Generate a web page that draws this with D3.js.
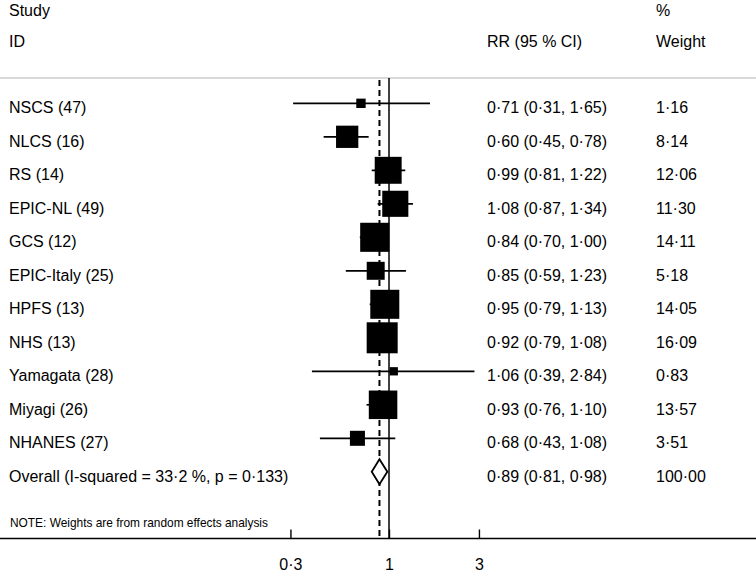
<!DOCTYPE html>
<html>
<head>
<meta charset="utf-8">
<script src="https://cdn.jsdelivr.net/npm/d3@7"></script>
<style>
  body { margin: 0; background: #fff; }
  svg { display: block; }
  text { font-family: "Liberation Sans", Arial, Helvetica, sans-serif; fill: #000; }
</style>
</head>
<body>
<svg></svg>
<script>
// study rows
var studies = ["NSCS (47)", "NLCS (16)", "RS (14)", "EPIC-NL (49)", "GCS (12)", "EPIC-Italy (25)",
  "HPFS (13)", "NHS (13)", "Yamagata (28)", "Miyagi (26)", "NHANES (27)"];
var rr     = [0.71, 0.60, 0.99, 1.08, 0.84, 0.85, 0.95, 0.92, 1.06, 0.93, 0.68];
var lower  = [0.31, 0.45, 0.81, 0.87, 0.70, 0.59, 0.79, 0.79, 0.39, 0.76, 0.43];
var upper  = [1.65, 0.78, 1.22, 1.34, 1.00, 1.23, 1.13, 1.08, 2.84, 1.10, 1.08];
var weight = [1.16, 8.14, 12.06, 11.30, 14.11, 5.18, 14.05, 16.09, 0.83, 13.57, 3.51];

// pooled estimate
var overallLabel = "Overall (I-squared = 33\u00b72 %, p = 0\u00b7133)";
var overall = { rr: 0.89, lower: 0.81, upper: 0.98, weight: 100.00 };

var tickValues = [0.3, 1, 3];
var tickLabels = ["0\u00b73", "1", "3"];
var note = "NOTE: Weights are from random effects analysis";

var width = 756, height = 576;

var svg = d3.select("svg")
  .attr("width", width)
  .attr("height", height);

// ~188.5 px per decade, 1 at x=389
var x = d3.scaleLog()
  .domain([0.1, 10])
  .range([200.5, 577.5]);

var y = d3.scaleLinear()
  .domain([0, 11])
  .range([103.3, 471.8]);

// box area grows with weight
var side = function(w) { return Math.sqrt(20 + 58.5 * w); };

var fmt = function(v) { return d3.format(".2f")(v).replace(".", "\u00b7"); };

var lineTop = 78, axisY = 538.5;

// header
var header = svg.append("g").attr("font-size", 16);
header.append("text").attr("x", 9).attr("y", 15.5).text("Study");
header.append("text").attr("x", 9).attr("y", 46.5).text("ID");
header.append("text").attr("x", 487).attr("y", 46.5).text("RR (95 % CI)");
header.append("text").attr("x", 656).attr("y", 15.5).text("%");
header.append("text").attr("x", 656).attr("y", 46.5).text("Weight");

svg.append("line")
  .attr("x1", 0).attr("x2", width)
  .attr("y1", lineTop).attr("y2", lineTop)
  .attr("stroke", "#b4b4b4")
  .attr("stroke-width", 1.2);

// null line and overall line
svg.append("line")
  .attr("x1", x(1)).attr("x2", x(1))
  .attr("y1", lineTop).attr("y2", axisY)
  .attr("stroke", "#000")
  .attr("stroke-width", 1.5);

svg.append("line")
  .attr("x1", x(overall.rr)).attr("x2", x(overall.rr))
  .attr("y1", lineTop + 2).attr("y2", axisY)
  .attr("stroke", "#000")
  .attr("stroke-width", 2)
  .attr("stroke-dasharray", "6,4");

// studies
var rows = studies.map(function(s, i) {
  return { name: s, rr: rr[i], lo: lower[i], hi: upper[i], w: weight[i], i: i };
});

var g = svg.append("g");

g.selectAll(".box")
  .data(rows)
  .enter().append("rect")
  .attr("class", "box")
  .attr("x", function(d) { return x(d.rr) - side(d.w) / 2; })
  .attr("y", function(d) { return y(d.i) - side(d.w) / 2; })
  .attr("width", function(d) { return side(d.w); })
  .attr("height", function(d) { return side(d.w); })
  .attr("fill", "#000");

g.selectAll(".ci")
  .data(rows)
  .enter().append("line")
  .attr("class", "ci")
  .attr("x1", function(d) { return x(d.lo); })
  .attr("x2", function(d) { return x(d.hi); })
  .attr("y1", function(d) { return y(d.i); })
  .attr("y2", function(d) { return y(d.i); })
  .attr("stroke", "#000")
  .attr("stroke-width", 1.7);

var labels = svg.append("g").attr("font-size", 16);

labels.selectAll(".name")
  .data(rows)
  .enter().append("text")
  .attr("x", 9)
  .attr("y", function(d) { return y(d.i) + 9.7; })
  .text(function(d) { return d.name; });

labels.selectAll(".est")
  .data(rows)
  .enter().append("text")
  .attr("x", 487)
  .attr("y", function(d) { return y(d.i) + 9.7; })
  .text(function(d) { return fmt(d.rr) + " (" + fmt(d.lo) + ", " + fmt(d.hi) + ")"; });

labels.selectAll(".wt")
  .data(rows)
  .enter().append("text")
  .attr("x", 656)
  .attr("y", function(d) { return y(d.i) + 9.7; })
  .text(function(d) { return fmt(d.w); });

// overall diamond
var oy = y(11);
svg.append("path")
  .attr("d", "M" + x(overall.lower) + "," + oy +
    "L" + x(overall.rr) + "," + (oy - 12.5) +
    "L" + x(overall.upper) + "," + oy +
    "L" + x(overall.rr) + "," + (oy + 12.5) + "Z")
  .attr("fill", "#fff")
  .attr("stroke", "#000")
  .attr("stroke-width", 1.8);

labels.append("text").attr("x", 9).attr("y", oy + 9.7).text(overallLabel);
labels.append("text").attr("x", 487).attr("y", oy + 9.7)
  .text(fmt(overall.rr) + " (" + fmt(overall.lower) + ", " + fmt(overall.upper) + ")");
labels.append("text").attr("x", 656).attr("y", oy + 9.7).text(fmt(overall.weight));

// note
svg.append("text")
  .attr("x", 10).attr("y", 527)
  .attr("font-size", 11.9)
  .text(note);

// axis
svg.append("line")
  .attr("x1", 0).attr("x2", width)
  .attr("y1", axisY).attr("y2", axisY)
  .attr("stroke", "#000")
  .attr("stroke-width", 1.6);

var axis = svg.append("g")
  .attr("transform", "translate(0," + axisY + ")")
  .call(d3.axisBottom(x)
    .tickValues(tickValues)
    .tickSize(-9)
    .tickPadding(20)
    .tickFormat(function(d, i) { return tickLabels[i]; }));

axis.select(".domain").remove();
axis.selectAll(".tick line").attr("stroke", "#000").attr("stroke-width", 1.4);
axis.selectAll(".tick text")
  .attr("font-size", 16)
  .attr("font-family", "\"Liberation Sans\", Arial, sans-serif")
  .attr("fill", "#000");
</script>
</body>
</html>
